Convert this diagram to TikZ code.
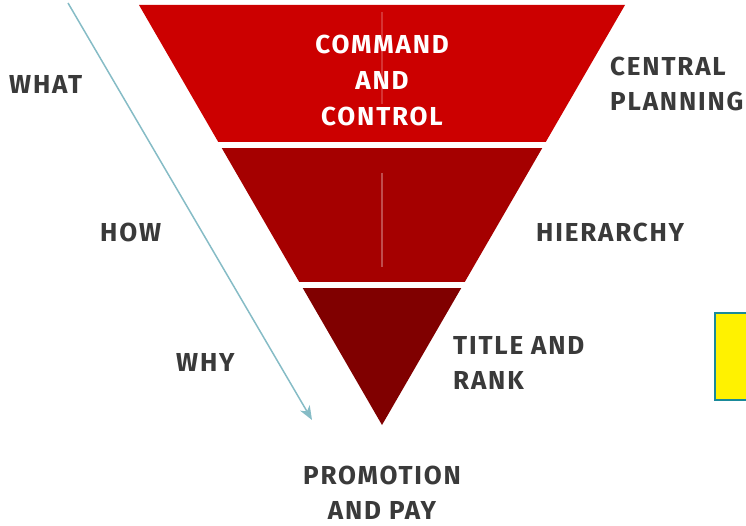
\documentclass[tikz,border=0pt]{standalone}
\usepackage{fontspec}
\setmainfont[LetterSpace=7]{Fira Sans}
\usetikzlibrary{arrows.meta}
\definecolor{topred}{HTML}{CC0000}
\definecolor{midred}{HTML}{A50000}
\definecolor{lowred}{HTML}{800000}
\definecolor{labelgray}{HTML}{3A3A3A}
\definecolor{arrowteal}{HTML}{86BCC6}
\definecolor{boxteal}{HTML}{1A8A9A}
\tikzset{
  label/.style={text=labelgray,font=\fontsize{26}{35.5}\selectfont\bfseries,align=left,inner sep=0pt},
  bandtext/.style={text=white,font=\fontsize{26}{36}\selectfont\bfseries,align=center,inner sep=0pt}
}
\begin{document}
\begin{tikzpicture}[x=1pt,y=-1pt]
    \useasboundingbox (0,0) rectangle (746,526);
    \begin{scope}
        \clip (139,5) -- (625,5) -- (382,425) -- cycle;
        \fill[topred] (0,0) rectangle (746,142);
        \fill[midred] (0,148) rectangle (746,282);
        \fill[lowred] (0,288) rectangle (746,430);
    \end{scope}
    \draw[white,opacity=0.2,line width=1.5pt] (382,12) -- (382,104);
    \draw[white,opacity=0.3,line width=1.5pt] (382,173) -- (382,267);
    \node[bandtext] (command) at (382,80) {COMMAND\\AND\\CONTROL};
    \node[label,anchor=west] (what) at (9,84) {WHAT};
    \node[label,anchor=west] (central) at (610,84) {CENTRAL\\PLANNING};
    \node[label,anchor=west] (how) at (100,232) {HOW};
    \node[label,anchor=west] (hierarchy) at (536,232) {HIERARCHY};
    \node[label,anchor=west] (why) at (176,362) {WHY};
    \node[label,anchor=west] (title) at (453,363) {TITLE AND\\RANK};
    \node[label,align=center] (promotion) at (382,493) {PROMOTION\\AND PAY};
    \coordinate (arrowstart) at (68,3);
    \coordinate (arrowend) at (312,420);
    \draw[arrowteal,line width=1.5pt,-{Stealth[length=14pt,width=11pt,inset=4pt]}] (arrowstart) -- (arrowend);
    \draw[boxteal,fill=yellow,line width=2.5pt] (715,313) rectangle (760,400);
\end{tikzpicture}
\end{document}
